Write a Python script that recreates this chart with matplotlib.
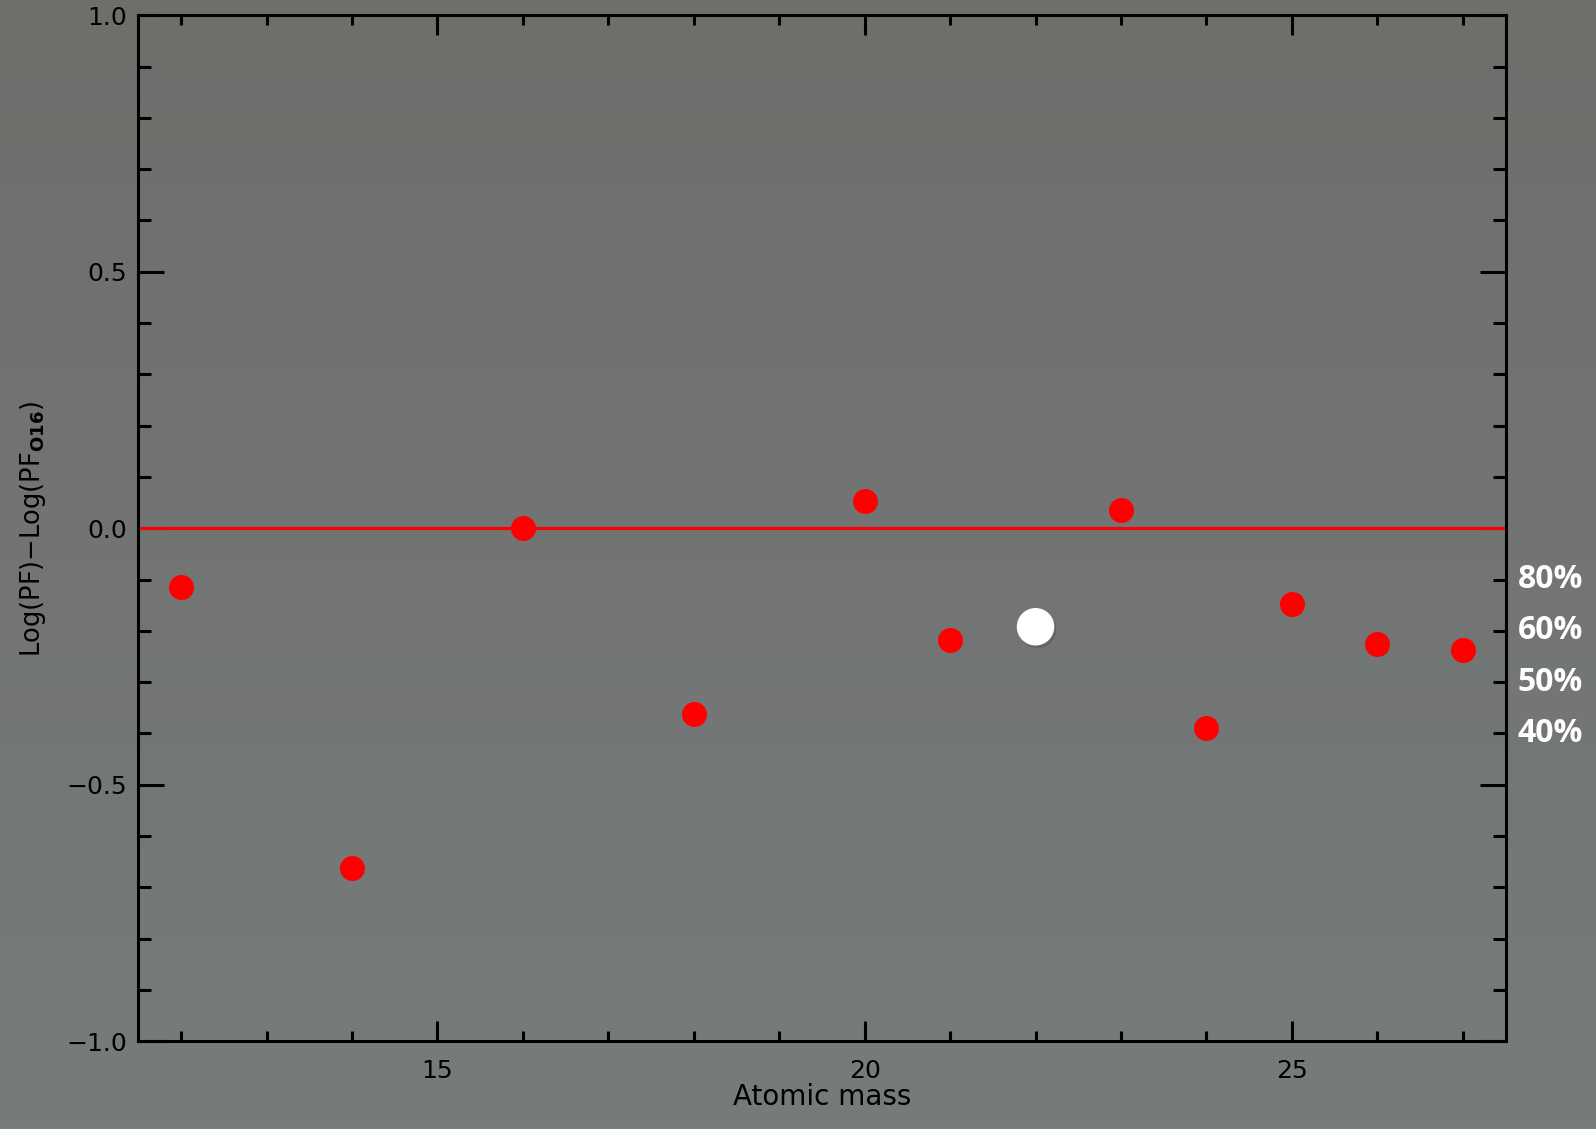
import matplotlib
matplotlib.use("Agg")
import numpy as np
import matplotlib.pyplot as plt
import matplotlib.patheffects as pe
from matplotlib.colors import LinearSegmentedColormap
from matplotlib.ticker import MultipleLocator

# atomic mass vs. partition-function offset relative to O16
mass = [12, 14, 16, 18, 20, 21, 23, 24, 25, 26, 27]
dlogpf = [-0.115, -0.663, 0.0, -0.363, 0.054, -0.218, 0.036, -0.389, -0.147, -0.226, -0.238]

highlight_mass = [22]
highlight_dlogpf = [-0.192]

pct_labels = ["80%", "60%", "50%", "40%"]
pct_levels = [-0.1, -0.2, -0.3, -0.4]

bg = "#717370"

fig = plt.figure(figsize=(15.96, 11.29), dpi=100)
fig.patch.set_facecolor(bg)

# slate-grey backdrop, a touch lighter and cooler towards the bottom
back = fig.add_axes([0, 0, 1, 1], zorder=-1)
board = LinearSegmentedColormap.from_list("board", ["#6d6f6b", "#777b7c"])
back.imshow(np.linspace(0, 1, 256)[:, None], aspect="auto", cmap=board, extent=[0, 1, 0, 1])
back.axis("off")

ax = fig.add_axes([0.0867, 0.0777, 0.8566, 0.9088])
ax.set_facecolor("none")

ax.axhline(0.0, color="#ff0000", lw=2.2, zorder=2)
ax.plot(mass, dlogpf, "o", color="#ff0000", ms=18, mec="none", zorder=3)
ax.plot(highlight_mass, highlight_dlogpf, "o", color="white", ms=27, mec="none", zorder=4,
        path_effects=[pe.SimplePatchShadow(offset=(1.5, -2), alpha=0.35), pe.Normal()])

ax.set_xlim(11.5, 27.5)
ax.set_ylim(-1.0, 1.0)
ax.xaxis.set_major_locator(MultipleLocator(5))
ax.xaxis.set_minor_locator(MultipleLocator(1))
ax.yaxis.set_major_locator(MultipleLocator(0.5))
ax.yaxis.set_minor_locator(MultipleLocator(0.1))
ax.tick_params(which="both", direction="in", top=True, right=True, width=2.2, color="black")
ax.tick_params(axis="x", which="major", length=14.5, pad=13, labelsize=18)
ax.tick_params(axis="x", which="minor", length=7.5)
ax.tick_params(axis="y", which="major", length=19, pad=8, labelsize=18)
ax.tick_params(axis="y", which="minor", length=9.5)
ax.set_yticks([-1.0, -0.5, 0.0, 0.5, 1.0])
ax.set_yticklabels(["\u22121.0", "\u22120.5", "0.0", "0.5", "1.0"])
for s in ax.spines.values():
    s.set_linewidth(2.2)
    s.set_color("black")

ax.set_xlabel("Atomic mass", fontsize=20, labelpad=0)
ax.set_ylabel(r"Log(PF)$-$Log(PF$_{\mathbf{O16}}$)", fontsize=18.5, labelpad=13)

for lab, lev in zip(pct_labels, pct_levels):
    ax.text(1.009, lev, lab, transform=ax.get_yaxis_transform(), ha="left", va="center",
            fontsize=23, fontweight="bold", family="Open Sans", color="white")

fig.savefig("out.png", dpi=100, facecolor=bg)
